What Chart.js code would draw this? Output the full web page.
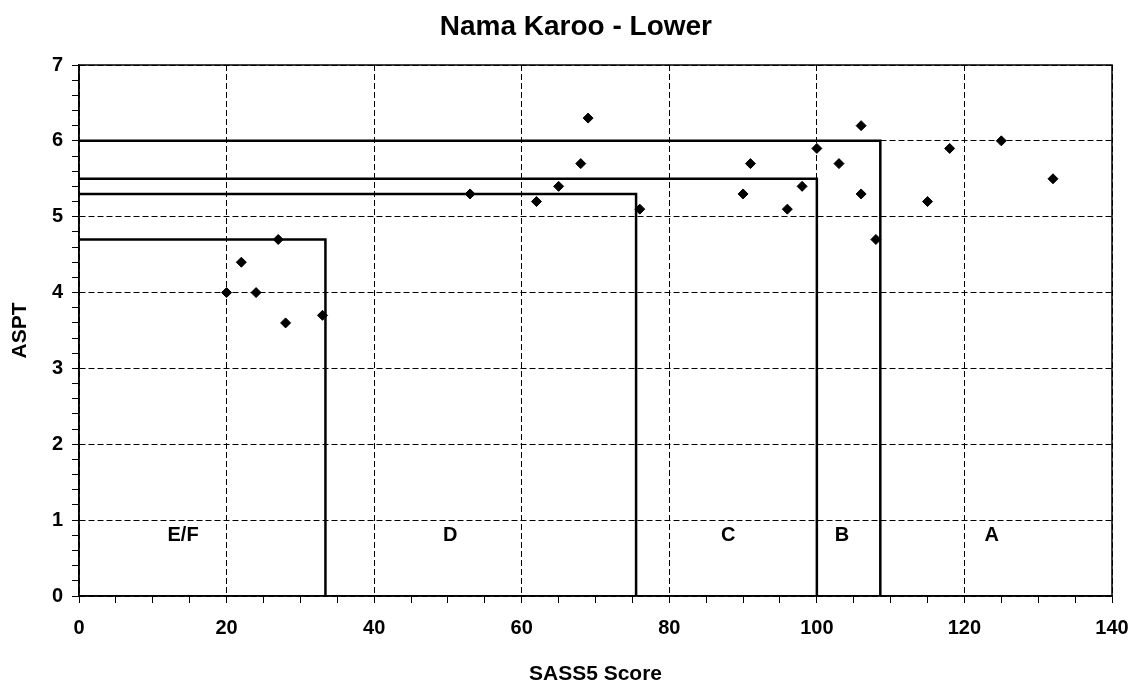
<!DOCTYPE html>
<html>
<head>
<meta charset="utf-8">
<title>Nama Karoo - Lower</title>
<script src="https://cdn.jsdelivr.net/npm/chart.js@4.4.1/dist/chart.umd.min.js"></script>
<style>
    html, body { margin: 0; padding: 0; background: #fff; }
    #wrap { width: 1135px; height: 684px; }
</style>
</head>
<body>
<div id="wrap"><canvas id="chart" width="1135" height="684"></canvas></div>
<script>
// ------------------------------------------------------------
//  Data
// ------------------------------------------------------------

const sassScores = [20, 22, 24, 27, 28, 33, 53, 62, 65, 68, 69, 76,
                    90, 91, 96, 98, 100, 103, 106, 106, 108, 115, 118, 125, 132];
const asptValues = [4.0, 4.4, 4.0, 4.7, 3.6, 3.7, 5.3, 5.2, 5.4, 5.7, 6.3, 5.1,
                    5.3, 5.7, 5.1, 5.4, 5.9, 5.7, 6.2, 5.3, 4.7, 5.2, 5.9, 6.0, 5.5];

// class boundaries: SASS5 cut-off and ASPT cut-off (E/F, D, C, B)
const boundarySass = [33.4, 75.5, 100, 108.6];
const boundaryAspt = [4.7, 5.3, 5.5, 6.0];

// zone labels
const zoneNames = ["E/F", "D", "C", "B", "A"];
const zoneX     = [14.1, 50.3, 88.0, 103.4, 123.7];
const zoneY     = [0.8, 0.8, 0.8, 0.8, 0.8];

const xTicks = { min: 0, max: 140, major: 20, minor: 5 };
const yTicks = { min: 0, max: 7, major: 1, minor: 0.2 };

const chartTitle = "Nama Karoo - Lower";

// ------------------------------------------------------------
//  Styling
// ------------------------------------------------------------

const FONT = "'Liberation Sans', Arial, sans-serif";
Chart.defaults.font.family = FONT;
Chart.defaults.color = "#000";

const isMajor = (v, step) => Math.abs(v / step - Math.round(v / step)) < 1e-6;

const points = sassScores.map((x, i) => ({ x, y: asptValues[i] }));

const boundaryDatasets = boundarySass.map((s, i) => ({
    label: "boundary " + zoneNames[i],
    data: [
        { x: 0, y: boundaryAspt[i] },
        { x: s, y: boundaryAspt[i] },
        { x: s, y: 0 },
    ],
    showLine: true,
    borderColor: "#000",
    borderWidth: 2.5,
    pointRadius: 0,
    fill: false,
    tension: 0,
}));

// frame round the plot area, zone letters and the (slightly off-centre) title
const framePlugin = {
    id: "frame",
    afterDatasetsDraw(chart) {
        const { ctx, chartArea: a, scales } = chart;
        ctx.save();
        ctx.strokeStyle = "#000";
        ctx.lineWidth = 1.5;
        ctx.strokeRect(a.left, a.top, a.right - a.left, a.bottom - a.top);

        ctx.fillStyle = "#000";
        ctx.textAlign = "center";
        ctx.textBaseline = "middle";
        ctx.font = "bold 20px " + FONT;
        zoneNames.forEach((n, i) => {
            ctx.fillText(n, scales.x.getPixelForValue(zoneX[i]), scales.y.getPixelForValue(zoneY[i]));
        });

        ctx.font = "bold 28px " + FONT;
        ctx.fillText(chartTitle, a.left + (a.right - a.left) * 0.481, a.top - 38);
        ctx.restore();
    },
};

new Chart(document.getElementById("chart"), {
    type: "scatter",
    data: {
        datasets: [
            {
                label: "sites",
                data: points,
                pointStyle: "rectRot",
                pointRadius: 5,
                pointBackgroundColor: "#000",
                pointBorderColor: "#000",
                pointBorderWidth: 1,
                showLine: false,
            },
            ...boundaryDatasets,
        ],
    },
    options: {
        responsive: false,
        animation: false,
        layout: { padding: { left: 0, right: 23, top: 65, bottom: 0 } },
        plugins: {
            legend: { display: false },
            tooltip: { enabled: false },
            title: { display: false },
        },
        scales: {
            x: {
                type: "linear",
                min: xTicks.min,
                max: xTicks.max,
                // fixed height, and don't let the "140" label push the plot inward
                afterFit: s => { s.height = 88; s.paddingLeft = 0; s.paddingRight = 0; },
                ticks: {
                    stepSize: xTicks.minor,
                    autoSkip: false,
                    maxRotation: 0,
                    padding: 13,
                    font: { size: 20, weight: "bold" },
                    callback: v => isMajor(v, xTicks.major) ? v : "",
                },
                grid: {
                    color: c => isMajor(c.tick.value, xTicks.major) ? "#000" : "rgba(0,0,0,0)",
                    lineWidth: 1,
                    tickColor: "#000",
                    tickLength: 7,
                    tickWidth: 1,
                },
                border: { display: true, color: "#000", width: 1.5, dash: [6, 3] },
                title: {
                    display: true,
                    text: "SASS5 Score",
                    font: { size: 21, weight: "bold", lineHeight: 0.9 },
                    padding: { top: 0, bottom: 0 },
                },
            },
            y: {
                type: "linear",
                min: yTicks.min,
                max: yTicks.max,
                afterFit: s => { s.width = 79; s.paddingTop = 0; s.paddingBottom = 0; },
                ticks: {
                    stepSize: yTicks.minor,
                    autoSkip: false,
                    padding: 9,
                    font: { size: 20, weight: "bold" },
                    callback: v => isMajor(v, yTicks.major) ? Math.round(v) : "",
                },
                grid: {
                    color: c => isMajor(c.tick.value, yTicks.major) ? "#000" : "rgba(0,0,0,0)",
                    lineWidth: 1,
                    tickColor: "#000",
                    tickLength: 7,
                    tickWidth: 1,
                },
                border: { display: true, color: "#000", width: 1.5, dash: [6, 3] },
                title: {
                    display: true,
                    text: "ASPT",
                    font: { size: 21, weight: "bold" },
                    padding: { top: 8, bottom: 8 },
                },
            },
        },
    },
    plugins: [framePlugin],
});
</script>
</body>
</html>
